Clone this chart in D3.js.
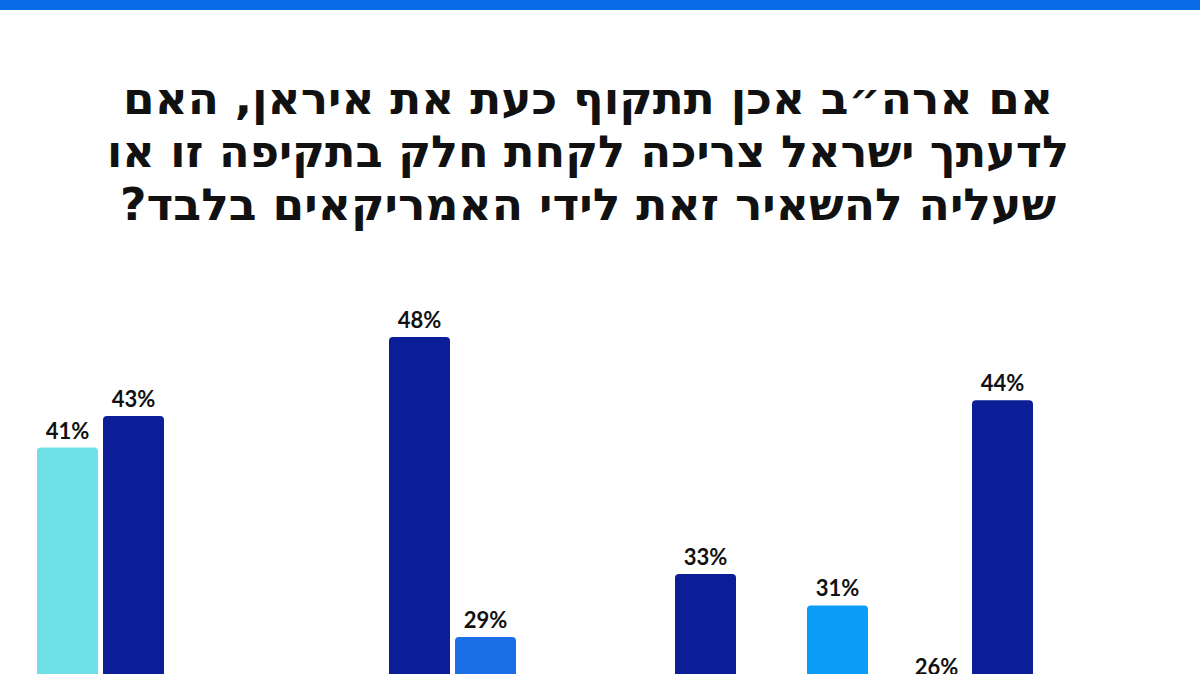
<!DOCTYPE html><html><head><meta charset="utf-8">
<script src="https://cdn.jsdelivr.net/npm/d3@7"></script>
<style>body{margin:0;background:#fff}svg{display:block}</style></head><body>
<svg id="c" width="1200" height="674"></svg>
<script>
const titleLines = ["אם ארה\u05F4ב אכן תתקוף כעת את איראן, האם","לדעתך ישראל צריכה לקחת חלק בתקיפה זו או","שעליה להשאיר זאת לידי האמריקאים בלבד?"];
const slots = d3.range(100).map(String);
const barSlots = ["0","6","32","38","58","70","79","85"];
const values = [41,43,48,29,33,31,26,44];
const colors = ["#6fe1e6","#0b1e98","#0b1e98","#1a6fe6","#0b1e98","#0a9cf6","#0b1e98","#0b1e98"];
const svg = d3.select("#c");
svg.append("rect").attr("x",0).attr("y",0).attr("width",1200).attr("height",10).attr("fill","#0a6de8");
svg.append("g").selectAll("text").data(titleLines).join("text")
 .attr("x",588).attr("y",(d,i)=>114+i*53).attr("text-anchor","middle").attr("direction","rtl")
 .attr("font-family","DejaVu Sans, sans-serif").attr("font-weight","bold").attr("font-size",44).attr("fill","#111")
 .attr("textLength",(d,i)=>[930,962,936][i]).attr("lengthAdjust","spacingAndGlyphs").text(d=>d);
const x = d3.scaleBand().domain(slots).range([37,37+11*100]).paddingInner(0);
const y = d3.scaleLinear().domain([0,48]).range([1095,337]);
const bw = 61;
const data = values.map((v,i)=>({slot:barSlots[i],v,c:colors[i]}));
svg.append("g").selectAll("path").data(data).join("path")
 .attr("fill",d=>d.c)
 .attr("d",d=>{const x0=x(d.slot),y0=y(d.v),r=4,yb=y(0);
   return `M${x0},${yb}V${y0+r}Q${x0},${y0} ${x0+r},${y0}H${x0+bw-r}Q${x0+bw},${y0} ${x0+bw},${y0+r}V${yb}Z`;});
svg.append("g").selectAll("text").data(data).join("text")
 .attr("x",d=>x(d.slot)+bw/2).attr("y",d=>y(d.v)-9).attr("text-anchor","middle")
 .attr("font-family","Lato, sans-serif").attr("font-weight","bold").attr("font-size",22).attr("fill","#111")
 .text(d=>d.v+"%");
</script></body></html>
